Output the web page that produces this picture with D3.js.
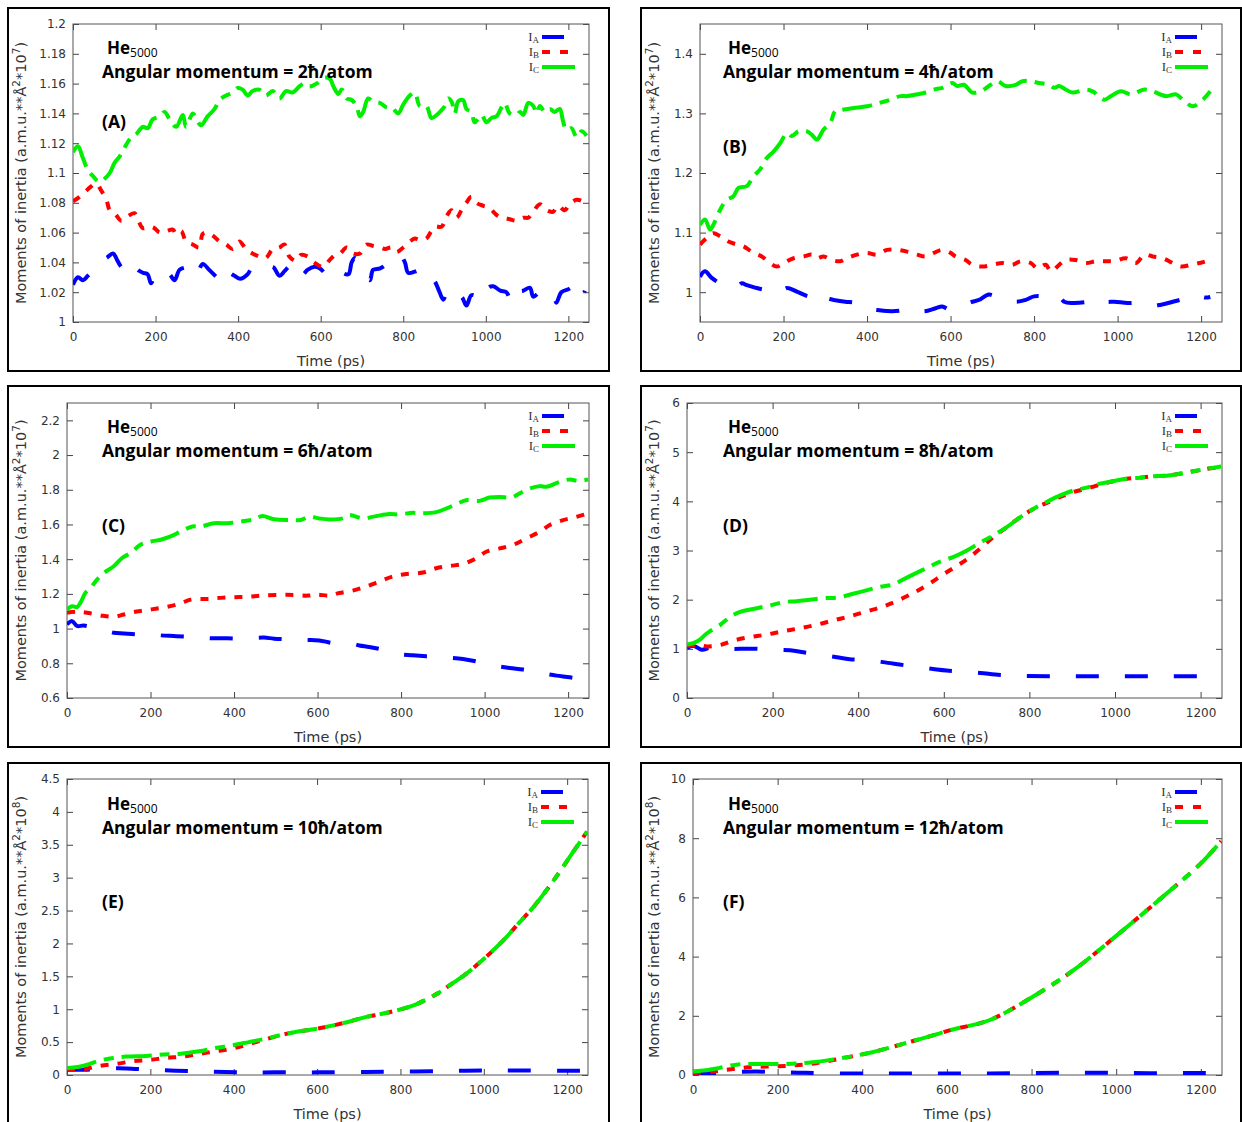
<!DOCTYPE html>
<html><head><meta charset="utf-8">
<script src="https://cdn.jsdelivr.net/npm/d3@7/dist/d3.min.js"></script>
<style>body{margin:0;background:#fff}svg{display:block}</style>
</head><body>
<svg id="chart" width="1242" height="1122"></svg>
<script>
// ---------------- DATA ----------------
const timeTicks = [0, 200, 400, 600, 800, 1000, 1200];
const seriesNames = ["A", "B", "C"];
const seriesColors = ["#0000ff", "#ff0000", "#00ee00"];
const panelLetters = ["A", "B", "C", "D", "E", "F"];
const angularMomenta = ["2", "4", "6", "8", "10", "12"];
const yExponents = ["7", "7", "7", "7", "8", "8"];

const yTicksA = [1, 1.02, 1.04, 1.06, 1.08, 1.1, 1.12, 1.14, 1.16, 1.18, 1.2];
const yTicksB = [1, 1.1, 1.2, 1.3, 1.4];
const yTicksC = [0.6, 0.8, 1, 1.2, 1.4, 1.6, 1.8, 2, 2.2];
const yTicksD = [0, 1, 2, 3, 4, 5, 6];
const yTicksE = [0, 0.5, 1, 1.5, 2, 2.5, 3, 3.5, 4, 4.5];
const yTicksF = [0, 2, 4, 6, 8, 10];

const yDomainA = [1, 1.2], yDomainB = [0.95, 1.45], yDomainC = [0.6, 2.3];
const yDomainD = [0, 6], yDomainE = [0, 4.5], yDomainF = [0, 10];

const A_IA = [[0,1.025],[12,1.030],[24,1.028],[36,1.031],[48,1.034],[60,1.037],[69,1.042],[81,1.043],[97,1.046],[108,1.041],[117,1.037],[133,1.034],[149,1.039],[157,1.035],[170,1.033],[181,1.032],[189,1.026],[201,1.033],[215,1.035],[234,1.032],[246,1.028],[258,1.035],[275,1.037],[294,1.040],[302,1.034],[314,1.039],[330,1.035],[348,1.030],[363,1.026],[375,1.033],[391,1.031],[405,1.029],[423,1.032],[435,1.037],[448,1.035],[465,1.036],[484,1.037],[500,1.031],[512,1.034],[526,1.038],[540,1.040],[556,1.032],[568,1.035],[585,1.037],[598,1.036],[615,1.032],[627,1.036],[645,1.034],[667,1.032],[675,1.040],[683,1.043],[700,1.036],[719,1.028],[727,1.035],[744,1.036],[765,1.040],[780,1.044],[792,1.045],[804,1.040],[812,1.033],[830,1.034],[852,1.036],[864,1.031],[877,1.027],[888,1.020],[897,1.015],[909,1.022],[921,1.018],[941,1.017],[953,1.011],[965,1.018],[980,1.017],[998,1.015],[1006,1.023],[1018,1.024],[1035,1.021],[1050,1.020],[1062,1.013],[1070,1.020],[1090,1.021],[1107,1.023],[1115,1.017],[1131,1.020],[1148,1.020],[1163,1.020],[1171,1.013],[1183,1.020],[1200,1.022],[1216,1.024],[1228,1.016],[1240,1.021]];
const A_IB = [[0,1.081],[16,1.084],[28,1.087],[44,1.091],[56,1.093],[69,1.088],[81,1.082],[89,1.075],[101,1.073],[117,1.068],[133,1.071],[149,1.073],[157,1.069],[169,1.063],[185,1.064],[197,1.063],[210,1.060],[226,1.061],[242,1.062],[250,1.059],[262,1.061],[274,1.054],[290,1.052],[306,1.050],[314,1.059],[326,1.060],[339,1.058],[355,1.054],[371,1.052],[387,1.049],[403,1.054],[419,1.049],[435,1.046],[451,1.044],[467,1.043],[484,1.049],[500,1.050],[512,1.052],[524,1.044],[540,1.041],[552,1.045],[568,1.044],[584,1.040],[606,1.037],[623,1.042],[635,1.045],[647,1.046],[663,1.050],[679,1.046],[695,1.046],[711,1.052],[727,1.051],[744,1.050],[756,1.049],[772,1.050],[784,1.047],[800,1.050],[816,1.054],[828,1.056],[840,1.055],[856,1.056],[868,1.061],[877,1.064],[893,1.064],[905,1.071],[917,1.075],[929,1.070],[941,1.075],[953,1.080],[965,1.084],[977,1.080],[994,1.078],[1006,1.077],[1018,1.074],[1030,1.071],[1042,1.070],[1058,1.069],[1074,1.068],[1091,1.070],[1103,1.070],[1115,1.074],[1131,1.079],[1147,1.075],[1163,1.074],[1175,1.078],[1191,1.075],[1203,1.079],[1220,1.082],[1236,1.081],[1248,1.080]];
const A_IC = [[0,1.114],[12,1.118],[24,1.110],[36,1.102],[48,1.098],[64,1.094],[76,1.096],[89,1.100],[101,1.107],[113,1.111],[125,1.117],[141,1.124],[153,1.126],[169,1.131],[181,1.130],[193,1.136],[210,1.138],[222,1.141],[234,1.136],[250,1.131],[266,1.139],[274,1.131],[290,1.140],[298,1.137],[310,1.132],[326,1.138],[343,1.143],[355,1.149],[371,1.152],[387,1.154],[399,1.157],[411,1.156],[423,1.152],[435,1.155],[451,1.156],[467,1.152],[484,1.155],[500,1.150],[516,1.155],[532,1.154],[548,1.158],[560,1.160],[572,1.158],[590,1.160],[610,1.164],[623,1.163],[631,1.158],[643,1.153],[651,1.156],[663,1.150],[675,1.149],[687,1.145],[695,1.138],[703,1.141],[715,1.150],[727,1.148],[744,1.147],[760,1.144],[772,1.144],[788,1.140],[800,1.146],[816,1.152],[828,1.154],[840,1.145],[856,1.145],[868,1.137],[877,1.138],[889,1.141],[901,1.145],[909,1.150],[917,1.148],[925,1.140],[933,1.148],[945,1.149],[953,1.143],[965,1.141],[973,1.134],[989,1.139],[1002,1.134],[1014,1.137],[1026,1.138],[1038,1.144],[1046,1.147],[1058,1.140],[1074,1.139],[1083,1.141],[1091,1.139],[1103,1.147],[1115,1.145],[1123,1.140],[1131,1.145],[1143,1.141],[1155,1.143],[1167,1.141],[1179,1.143],[1187,1.135],[1195,1.129],[1208,1.130],[1220,1.124],[1232,1.128],[1244,1.125]];

const B_IA = [[0,1.026],[12,1.035],[28,1.024],[48,1.015],[72,1.010],[84,1.007],[100,1.015],[112,1.012],[136,1.007],[160,1.004],[176,1.007],[192,1.001],[208,1.007],[232,1.001],[260,0.993],[272,0.993],[284,0.984],[296,0.990],[320,0.987],[348,0.984],[372,0.982],[392,0.973],[424,0.970],[460,0.968],[488,0.970],[504,0.973],[536,0.968],[564,0.973],[580,0.976],[600,0.970],[624,0.976],[652,0.984],[668,0.987],[692,0.996],[716,0.990],[756,0.984],[780,0.987],[800,0.993],[836,0.993],[856,0.996],[872,0.984],[892,0.982],[928,0.984],[956,0.990],[972,0.984],[992,0.984],[1024,0.982],[1056,0.982],[1080,0.977],[1104,0.979],[1132,0.984],[1164,0.990],[1188,0.996],[1208,0.991],[1222,0.992]];
const B_IB = [[0,1.080],[16,1.091],[32,1.099],[48,1.094],[68,1.085],[88,1.080],[104,1.077],[128,1.066],[148,1.060],[168,1.049],[184,1.043],[200,1.049],[224,1.057],[248,1.060],[268,1.063],[280,1.057],[296,1.060],[316,1.054],[336,1.052],[352,1.057],[376,1.063],[400,1.066],[424,1.063],[448,1.071],[472,1.071],[496,1.068],[520,1.063],[540,1.060],[560,1.066],[580,1.071],[600,1.066],[612,1.060],[636,1.054],[652,1.046],[676,1.043],[700,1.046],[724,1.049],[748,1.046],[768,1.052],[792,1.049],[808,1.040],[828,1.046],[840,1.035],[860,1.046],[876,1.054],[900,1.054],[924,1.049],[948,1.052],[972,1.052],[992,1.052],[1020,1.057],[1044,1.049],[1064,1.063],[1084,1.060],[1108,1.057],[1132,1.049],[1152,1.043],[1176,1.046],[1196,1.049],[1212,1.052],[1228,1.057]];
const B_IC = [[0,1.113],[12,1.122],[24,1.105],[32,1.113],[48,1.138],[64,1.155],[80,1.161],[92,1.175],[112,1.178],[128,1.194],[144,1.206],[160,1.225],[176,1.236],[192,1.250],[208,1.267],[220,1.262],[236,1.270],[256,1.270],[268,1.264],[280,1.256],[296,1.273],[312,1.284],[324,1.304],[340,1.306],[368,1.309],[400,1.312],[432,1.318],[456,1.323],[480,1.329],[496,1.329],[520,1.332],[540,1.335],[560,1.340],[580,1.343],[604,1.351],[616,1.346],[632,1.348],[652,1.335],[672,1.337],[696,1.348],[712,1.354],[732,1.346],[756,1.348],[772,1.354],[792,1.354],[812,1.351],[836,1.348],[848,1.343],[860,1.346],[876,1.340],[892,1.335],[924,1.340],[940,1.337],[968,1.323],[984,1.329],[1008,1.337],[1032,1.332],[1064,1.340],[1084,1.337],[1116,1.329],[1140,1.332],[1156,1.323],[1180,1.312],[1204,1.323],[1222,1.337]];

const C_IA = [[0,1.024],[12,1.043],[24,1.015],[40,1.018],[64,1.005],[88,0.992],[112,0.976],[136,0.972],[168,0.967],[200,0.967],[224,0.961],[256,0.957],[288,0.953],[320,0.948],[352,0.944],[384,0.944],[416,0.942],[448,0.946],[472,0.948],[496,0.942],[536,0.938],[568,0.934],[604,0.932],[636,0.917],[676,0.917],[700,0.903],[724,0.894],[756,0.878],[788,0.855],[828,0.846],[860,0.840],[900,0.834],[948,0.825],[980,0.811],[1012,0.792],[1060,0.773],[1092,0.764],[1124,0.748],[1148,0.738],[1172,0.729],[1204,0.719],[1228,0.710],[1248,0.702]];
const C_IB = [[0,1.091],[24,1.097],[48,1.091],[80,1.076],[112,1.068],[136,1.081],[160,1.095],[184,1.104],[212,1.114],[240,1.125],[272,1.145],[296,1.167],[336,1.171],[368,1.177],[400,1.181],[432,1.183],[464,1.190],[504,1.194],[544,1.194],[576,1.190],[600,1.196],[628,1.190],[652,1.205],[684,1.219],[716,1.242],[748,1.271],[780,1.300],[812,1.315],[852,1.323],[884,1.348],[916,1.361],[948,1.372],[980,1.405],[1004,1.443],[1036,1.462],[1068,1.482],[1100,1.520],[1132,1.558],[1156,1.597],[1188,1.625],[1220,1.644],[1248,1.664]];
const C_IC = [[0,1.110],[12,1.129],[24,1.124],[32,1.148],[44,1.206],[56,1.234],[72,1.282],[88,1.320],[112,1.359],[132,1.407],[152,1.435],[176,1.483],[200,1.502],[224,1.512],[248,1.531],[272,1.559],[300,1.588],[320,1.588],[352,1.607],[384,1.607],[416,1.617],[448,1.630],[468,1.649],[496,1.630],[536,1.626],[560,1.626],[580,1.645],[604,1.635],[628,1.629],[660,1.635],[676,1.654],[708,1.635],[740,1.648],[772,1.660],[796,1.658],[828,1.667],[852,1.664],[884,1.671],[908,1.692],[936,1.721],[956,1.740],[988,1.736],[1012,1.755],[1036,1.759],[1064,1.755],[1084,1.779],[1108,1.807],[1132,1.821],[1148,1.817],[1180,1.846],[1204,1.859],[1224,1.851],[1248,1.859]];

const D_IA = [[0,1.02],[16,1.06],[35,0.98],[54,1.02],[93,1.0],[124,1.0],[163,1.0],[202,0.98],[241,0.97],[272,0.93],[311,0.88],[350,0.83],[380,0.79],[419,0.77],[458,0.73],[497,0.68],[536,0.63],[575,0.59],[606,0.56],[639,0.54],[685,0.51],[732,0.47],[794,0.45],[856,0.44],[918,0.44],[980,0.44],[1043,0.44],[1105,0.44],[1167,0.44],[1250,0.44]];
const D_IB = [[0,1.05],[23,1.08],[47,1.05],[78,1.08],[109,1.17],[148,1.24],[186,1.29],[225,1.36],[264,1.42],[303,1.49],[342,1.58],[380,1.66],[419,1.76],[458,1.86],[497,2.0],[536,2.17],[567,2.33],[598,2.51],[629,2.68],[654,2.82],[685,3.04],[717,3.28],[748,3.48],[779,3.68],[810,3.85],[841,3.97],[872,4.09],[903,4.19],[934,4.26],[965,4.34],[996,4.41],[1027,4.46],[1058,4.48],[1089,4.51],[1120,4.52],[1151,4.56],[1183,4.61],[1214,4.66],[1248,4.70]];
const D_IC = [[0,1.085],[16,1.12],[31,1.19],[43,1.29],[54,1.36],[78,1.49],[101,1.65],[124,1.75],[148,1.80],[171,1.84],[194,1.88],[225,1.95],[256,1.97],[287,2.0],[318,2.03],[357,2.05],[388,2.12],[419,2.19],[450,2.26],[482,2.31],[505,2.41],[528,2.51],[559,2.64],[590,2.77],[623,2.87],[654,3.0],[685,3.16],[717,3.31],[748,3.48],[779,3.68],[810,3.85],[841,3.99],[872,4.12],[903,4.22],[934,4.28],[965,4.36],[996,4.41],[1027,4.46],[1058,4.48],[1089,4.51],[1120,4.52],[1151,4.56],[1183,4.61],[1214,4.66],[1248,4.71]];

const E_IA = [[0,0.08],[48,0.08],[103,0.10],[143,0.10],[198,0.08],[261,0.065],[317,0.055],[380,0.045],[436,0.04],[499,0.04],[570,0.04],[604,0.04],[716,0.045],[836,0.055],[956,0.065],[1068,0.07],[1188,0.065],[1248,0.065]];
const E_IB = [[0,0.08],[40,0.09],[79,0.14],[119,0.17],[158,0.21],[198,0.23],[238,0.26],[277,0.28],[317,0.32],[356,0.36],[396,0.40],[436,0.47],[475,0.54],[515,0.61],[554,0.66],[596,0.70],[636,0.75],[676,0.81],[716,0.88],[756,0.93],[796,0.99],[828,1.05],[860,1.14],[892,1.25],[924,1.39],[956,1.53],[988,1.70],[1020,1.88],[1052,2.08],[1084,2.31],[1116,2.53],[1148,2.79],[1180,3.07],[1212,3.37],[1248,3.70]];
const E_IC = [[0,0.106],[32,0.13],[55,0.17],[79,0.22],[111,0.26],[143,0.28],[190,0.29],[230,0.31],[269,0.32],[317,0.36],[356,0.41],[396,0.45],[436,0.50],[475,0.55],[515,0.61],[554,0.66],[596,0.70],[636,0.75],[676,0.81],[716,0.88],[756,0.93],[796,0.99],[828,1.05],[860,1.14],[892,1.25],[924,1.39],[956,1.53],[988,1.70],[1020,1.88],[1052,2.08],[1084,2.31],[1116,2.53],[1148,2.79],[1180,3.07],[1212,3.37],[1248,3.70]];

const F_IA = [[0,0.07],[50,0.06],[100,0.10],[150,0.12],[200,0.09],[250,0.08],[300,0.06],[400,0.05],[500,0.05],[600,0.05],[700,0.05],[800,0.07],[900,0.08],[1000,0.07],[1100,0.06],[1200,0.07],[1250,0.07]];
const F_IB = [[0,0.07],[47,0.12],[94,0.20],[141,0.27],[188,0.29],[235,0.32],[282,0.38],[329,0.50],[376,0.63],[424,0.77],[471,0.95],[518,1.14],[565,1.33],[612,1.53],[700,1.85],[800,2.62],[900,3.55],[1000,4.70],[1100,5.90],[1200,7.15],[1248,7.90]];
const F_IC = [[0,0.12],[31,0.16],[63,0.24],[102,0.35],[141,0.37],[188,0.37],[235,0.38],[282,0.43],[329,0.52],[376,0.63],[424,0.77],[471,0.95],[518,1.14],[565,1.33],[612,1.53],[700,1.85],[800,2.62],[900,3.55],[1000,4.70],[1100,5.90],[1200,7.15],[1248,7.90]];

// ---------------- LAYOUT ----------------
const timeDomain = [0, 1250];
const layout = [
  {box:[8,8,601,363],   plot:{l:73, t:24, r:589, b:322},  col:0, row:0, letterY:128},
  {box:[641,8,600,363], plot:{l:700,t:24, r:1222,b:322},  col:1, row:0, letterY:153},
  {box:[8,386,601,361], plot:{l:67, t:403,r:589, b:698},  col:0, row:1, letterY:532},
  {box:[641,386,600,361],plot:{l:687,t:403,r:1222,b:698}, col:1, row:1, letterY:532},
  {box:[8,763,601,380], plot:{l:67, t:779,r:588, b:1075}, col:0, row:2, letterY:908},
  {box:[641,763,600,380],plot:{l:693,t:779,r:1222,b:1075},col:1, row:2, letterY:908}
];
const rowTextY = [[54,78],[433,457],[810,834]];
const colTextX = [102, 723];

const panelData = [[A_IA,A_IB,A_IC],[B_IA,B_IB,B_IC],[C_IA,C_IB,C_IC],[D_IA,D_IB,D_IC],[E_IA,E_IB,E_IC],[F_IA,F_IB,F_IC]];
const panelYTicks = [yTicksA,yTicksB,yTicksC,yTicksD,yTicksE,yTicksF];
const panelYDomain = [yDomainA,yDomainB,yDomainC,yDomainD,yDomainE,yDomainF];

const dashes = ["23,26", "8,9", "30,8,10,8"];
const tickFont = "'DejaVu Sans',Verdana,sans-serif";
const titleFont = "'Open Sans','Noto Sans',sans-serif";
const fmt = v => String(+(+v).toFixed(3));

const svg = d3.select("#chart");
svg.append("rect").attr("width",1242).attr("height",1122).attr("fill","#fff");

layout.forEach((L, i) => {
  const p = L.plot;
  const g = svg.append("g");
  g.append("rect").attr("x",L.box[0]).attr("y",L.box[1]).attr("width",L.box[2]).attr("height",L.box[3])
    .attr("fill","none").attr("stroke","#000").attr("stroke-width",2);

  const x = d3.scaleLinear().domain(timeDomain).range([p.l, p.r]);
  const y = d3.scaleLinear().domain(panelYDomain[i]).range([p.b, p.t]);

  const styleAxis = sel => {
    sel.attr("font-size",null).attr("font-family",null).style("color","#444");
    sel.select(".domain").remove();
    sel.selectAll("text").attr("fill","#333").style("font-family",tickFont).style("font-size","12px");
  };
  g.append("g").attr("transform",`translate(0,${p.b})`)
    .call(d3.axisBottom(x).tickValues(timeTicks).tickSize(-6).tickSizeOuter(0).tickPadding(10).tickFormat(fmt)).call(styleAxis);
  g.append("g").attr("transform",`translate(0,${p.t})`)
    .call(d3.axisTop(x).tickValues(timeTicks).tickSize(-6).tickSizeOuter(0).tickFormat("")).call(styleAxis);
  g.append("g").attr("transform",`translate(${p.l},0)`)
    .call(d3.axisLeft(y).tickValues(panelYTicks[i]).tickSize(-6).tickSizeOuter(0).tickPadding(7).tickFormat(fmt)).call(styleAxis);
  g.append("g").attr("transform",`translate(${p.r},0)`)
    .call(d3.axisRight(y).tickValues(panelYTicks[i]).tickSize(-6).tickSizeOuter(0).tickFormat("")).call(styleAxis);

  g.append("rect").attr("x",p.l).attr("y",p.t).attr("width",p.r-p.l).attr("height",p.b-p.t)
    .attr("fill","none").attr("stroke","#555").attr("stroke-width",1);

  // axis labels
  g.append("text").attr("x",(p.l+p.r)/2).attr("y",p.b+44).attr("text-anchor","middle")
    .style("font-family",tickFont).style("font-size","14.5px").attr("fill","#333").text("Time (ps)");
  const yl = g.append("text").attr("transform",`translate(${L.box[0]+18},${(p.t+p.b)/2}) rotate(-90)`)
    .attr("text-anchor","middle").style("font-family",tickFont).style("font-size","14.5px").attr("fill","#333");
  yl.append("tspan").text("Moments of inertia (a.m.u.**Å");
  yl.append("tspan").attr("dy",-6).style("font-size","10.5px").text("2");
  yl.append("tspan").attr("dy",6).text("*10");
  yl.append("tspan").attr("dy",-6).style("font-size","10.5px").text(yExponents[i]);
  yl.append("tspan").attr("dy",6).text(")");

  // series
  const clipId = "clip" + i;
  svg.append("clipPath").attr("id",clipId).append("rect")
    .attr("x",p.l).attr("y",p.t).attr("width",p.r-p.l).attr("height",p.b-p.t);
  const line = d3.line().x(d => x(d[0])).y(d => y(d[1])).curve(d3.curveCatmullRom.alpha(0.5));
  panelData[i].forEach((s, k) => {
    g.append("path").attr("clip-path",`url(#${clipId})`).attr("d",line(s)).attr("fill","none")
      .attr("stroke",seriesColors[k]).attr("stroke-width",4).attr("stroke-dasharray",dashes[k])
      .attr("stroke-linecap","butt").attr("stroke-linejoin","round");
  });

  // legend
  const legLen = [22, 26, 33];
  const legDash = [null, "8,10", null];
  seriesNames.forEach((nm, k) => {
    const ly = p.t + 13 + k*15;
    const t = g.append("text").attr("x",p.r-50).attr("y",ly+3.5).attr("text-anchor","end")
      .style("font-family","'Liberation Serif','DejaVu Serif',serif").style("font-size","13px").attr("fill","#333");
    t.append("tspan").text("I");
    t.append("tspan").attr("dy",2.5).style("font-size","9px").text(nm);
    g.append("line").attr("x1",p.r-47).attr("x2",p.r-47+legLen[k]).attr("y1",ly).attr("y2",ly)
      .attr("stroke",seriesColors[k]).attr("stroke-width",4).attr("stroke-dasharray",legDash[k]);
  });

  // titles
  const tx = colTextX[L.col], ty = rowTextY[L.row];
  const he = g.append("text").attr("x",tx+5).attr("y",ty[0]).style("font-family",titleFont).attr("fill","#000");
  he.append("tspan").style("font-weight","bold").style("font-size","17px").text("He");
  he.append("tspan").attr("dy",3).style("font-size","12px").text("5000");
  g.append("text").attr("x",tx).attr("y",ty[1]).style("font-family",titleFont).style("font-weight","bold")
    .style("font-size","17.5px").attr("fill","#000").text(`Angular momentum = ${angularMomenta[i]}ħ/atom`);
  g.append("text").attr("x",tx).attr("y",L.letterY).style("font-family",titleFont).style("font-weight","bold")
    .style("font-size","17.5px").attr("fill","#000").text(`(${panelLetters[i]})`);
});
</script>
</body></html>
